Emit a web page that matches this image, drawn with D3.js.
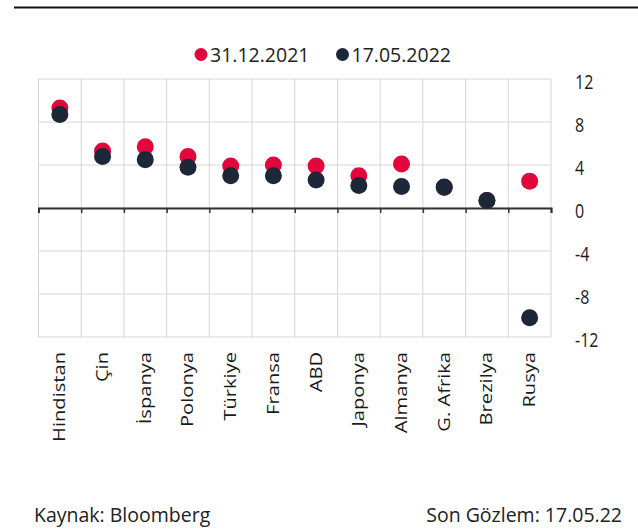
<!DOCTYPE html>
<html>
<head>
<meta charset="utf-8">
<script src="https://cdn.jsdelivr.net/npm/d3@7"></script>
<style>
    body { margin: 0; background: #fff; }
    text { font-family: "Open Sans", "Noto Sans", sans-serif; fill: #222; }
</style>
</head>
<body>
<div id="chart"></div>
<script>
// DATA
const countries = ["Hindistan", "Çin", "İspanya", "Polonya", "Türkiye", "Fransa", "ABD", "Japonya", "Almanya", "G. Afrika", "Brezilya", "Rusya"];
const dec2021 = [9.3, 5.3, 5.7, 4.8, 3.9, 4.0, 3.9, 3.0, 4.1, 1.9, 0.7, 2.5];
const may2022 = [8.7, 4.8, 4.5, 3.8, 3.0, 3.0, 2.6, 2.1, 2.0, 1.95, 0.7, -10.2];
const yTicks = [12, 8, 4, 0, -4, -8, -12];
const seriesNames = ["31.12.2021", "17.05.2022"];

const width = 638;
const height = 532;
const plot = { left: 38.5, right: 551, top: 79, bottom: 337 };
const colors = ["#e3063a", "#1c2737"];

const svg = d3.select('#chart').append('svg')
    .attr('width', width)
    .attr('height', height);

// top rule
svg.append('line')
    .attr('x1', 14).attr('x2', 638)
    .attr('y1', 7.5).attr('y2', 7.5)
    .attr('stroke', '#111')
    .attr('stroke-width', 2);

// scales
const x = d3.scaleBand().domain(countries).range([plot.left, plot.right]);
const xIdx = d3.scaleLinear().domain([0, countries.length]).range([plot.left, plot.right]);
const y = d3.scaleLinear().domain([-12, 12]).range([plot.bottom, plot.top]);

// grid
const grid = svg.append('g').attr('class', 'grid');
grid.selectAll('line.h')
    .data(yTicks)
    .enter().append('line')
    .attr('class', 'h')
    .attr('x1', plot.left).attr('x2', plot.right)
    .attr('y1', d => y(d)).attr('y2', d => y(d))
    .attr('stroke', '#d6d6d6');

grid.selectAll('line.v')
    .data(d3.range(countries.length + 1))
    .enter().append('line')
    .attr('class', 'v')
    .attr('x1', d => xIdx(d)).attr('x2', d => xIdx(d))
    .attr('y1', plot.top).attr('y2', plot.bottom)
    .attr('stroke', '#d6d6d6');

// zero axis, ticks at category boundaries
const zeroAxis = svg.append('g')
    .attr('transform', `translate(0,${y(0)})`)
    .call(d3.axisBottom(xIdx).ticks(countries.length).tickSize(5).tickSizeOuter(5).tickFormat(''));
zeroAxis.select('.domain').attr('stroke', '#333').attr('stroke-width', 2);
zeroAxis.selectAll('.tick line').attr('stroke', '#333').attr('stroke-width', 1.5);

// category labels (stretched along the text like the source)
const catAxis = svg.append('g')
    .attr('transform', `translate(0,${plot.bottom})`)
    .call(d3.axisBottom(x).tickSize(0));
catAxis.select('.domain').remove();
catAxis.selectAll('text')
    .attr('transform', 'rotate(-90) scale(1.3,1)')
    .attr('text-anchor', 'end')
    .attr('dy', '0.35em')
    .attr('x', -11.5)
    .attr('y', 0)
    .style('font-size', '15.5px')
    .style('fill', '#1a1a1a');

// y axis on the right (narrow digits)
const yAxis = svg.append('g')
    .attr('transform', `translate(${plot.right},0)`)
    .call(d3.axisRight(y).tickValues(yTicks).tickSize(0).tickFormat(d => String(d)));
yAxis.select('.domain').remove();
yAxis.selectAll('text')
    .attr('x', 0)
    .attr('dy', '0.45em')
    .attr('transform', 'translate(24,0) scale(0.8,1)')
    .style('font-size', '20px')
    .style('fill', '#1a1a1a');

// dots
const series = [dec2021, may2022];
series.forEach(function (vals, s) {
    svg.append('g').selectAll('circle')
        .data(vals)
        .enter().append('circle')
        .attr('cx', (d, i) => x(countries[i]) + x.bandwidth() / 2)
        .attr('cy', d => y(d))
        .attr('r', 8.5)
        .attr('fill', colors[s]);
});

// legend
const legendX = [201, 342.5];
const legend = svg.append('g');
seriesNames.forEach(function (name, i) {
    legend.append('circle')
        .attr('cx', legendX[i]).attr('cy', 54.5)
        .attr('r', 6.5)
        .attr('fill', colors[i]);
    legend.append('text')
        .attr('x', legendX[i] + 9).attr('y', 54.5)
        .attr('dy', '0.36em')
        .style('font-size', '19.5px')
        .text(name);
});

// footer
svg.append('text')
    .attr('x', 34).attr('y', 521.5)
    .style('font-size', '19.5px')
    .text('Kaynak: Bloomberg');
svg.append('text')
    .attr('x', 622).attr('y', 521.5)
    .attr('text-anchor', 'end')
    .style('font-size', '19.5px')
    .text('Son Gözlem: 17.05.22');
</script>
</body>
</html>
